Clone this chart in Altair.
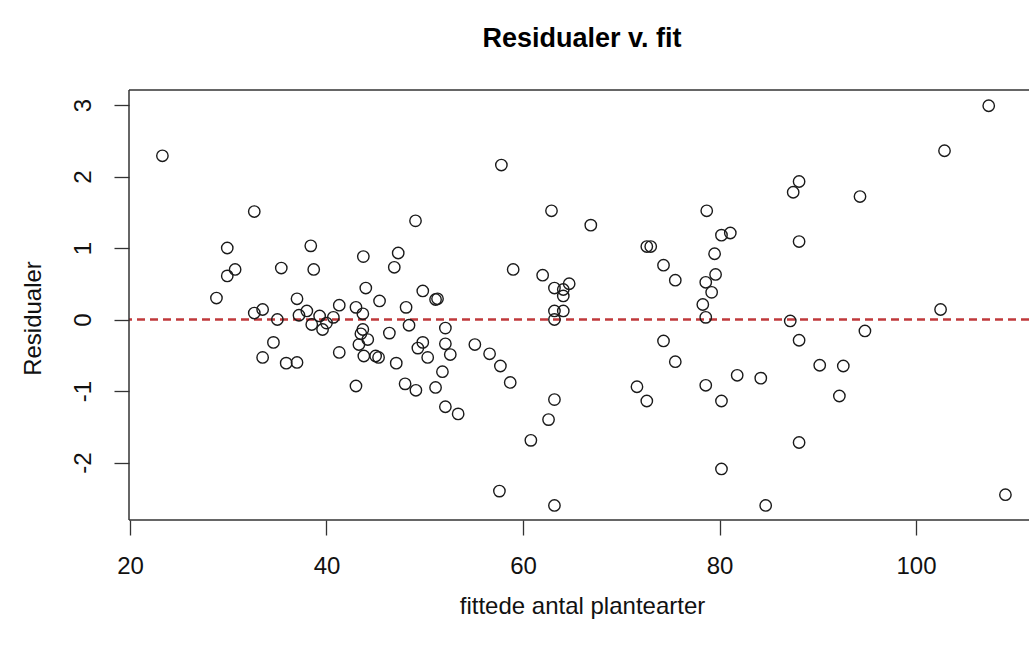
import altair as alt
import pandas as pd

fitted = [
    23.3, 28.8, 29.9, 29.9, 30.7, 32.65, 32.65, 33.5, 33.5, 34.6,
    35.0, 35.4, 35.9, 37.0, 37.0, 37.2, 38.0, 38.4, 38.7, 38.5,
    39.3, 39.6, 40.0, 40.7, 41.3, 41.3, 43.0, 43.0, 43.7, 43.75,
    44.0, 43.7, 43.5, 44.2, 43.3, 43.8,
    45.0, 45.3, 45.4, 46.4, 46.9, 47.1, 47.3, 48.0, 48.1, 48.4,
    49.06, 49.1, 49.3, 49.8, 49.8, 50.3, 51.1, 51.1, 51.3, 51.8,
    52.1, 52.1, 52.1, 52.6, 53.4, 55.1, 56.6, 57.6, 57.7, 57.8,
    58.7, 59.0, 60.8, 62.0, 62.6, 62.9, 63.2, 63.2, 63.2, 63.2,
    63.2, 64.1, 64.7, 64.1, 64.1, 66.9,
    71.6, 72.6, 72.6, 73.0, 74.3, 74.3, 75.5, 75.5, 78.3, 78.6,
    78.6, 78.6, 78.7, 79.2, 79.5, 79.6, 80.2, 80.2, 80.2, 81.1,
    81.8, 84.2, 84.7, 87.2, 87.5, 88.1, 88.1, 88.1, 88.1, 90.2,
    92.2, 92.6, 94.3, 94.8, 102.5, 102.9, 107.4, 109.1,
]
residuals = [
    2.29, 0.30, 1.00, 0.61, 0.70, 1.51, 0.09, 0.14, -0.53, -0.32,
    0.00, 0.72, -0.61, 0.29, -0.60, 0.06, 0.12, 1.03, 0.70, -0.07,
    0.05, -0.14, -0.05, 0.03, 0.20, -0.46, 0.17, -0.93, 0.08, 0.88,
    0.44, -0.14, -0.20, -0.28, -0.35, -0.51,
    -0.51, -0.53, 0.26, -0.19, 0.73, -0.61, 0.93, -0.90, 0.17, -0.08,
    1.38, -0.99, -0.40, 0.40, -0.32, -0.53, -0.95, 0.28, 0.29, -0.73,
    -0.12, -0.34, -1.22, -0.49, -1.32, -0.35, -0.48, -2.40, -0.65, 2.16,
    -0.88, 0.70, -1.69, 0.62, -1.40, 1.52, 0.44, 0.12, 0.00, -1.12,
    -2.60, 0.42, 0.50, 0.33, 0.12, 1.32,
    -0.94, -1.14, 1.02, 1.02, 0.76, -0.30, 0.55, -0.59, 0.21, 0.52,
    0.03, -0.92, 1.52, 0.38, 0.92, 0.63, 1.18, -1.14, -2.09, 1.21,
    -0.78, -0.82, -2.60, -0.02, 1.78, 1.93, 1.09, -0.29, -1.72, -0.64,
    -1.07, -0.65, 1.72, -0.16, 0.14, 2.36, 2.99, -2.45,
]
x_ticks = [20, 40, 60, 80, 100]
y_ticks = [-2, -1, 0, 1, 2, 3]
ref_line = [0]

df = pd.DataFrame({"fitted": fitted, "resid": residuals})
ref = pd.DataFrame({"y": ref_line})

FONT = "Liberation Sans"
W, H = 900, 430
FRAME = "#333"

xscale = alt.Scale(domain=[19.9, 111.5], nice=False, zero=False)
yscale = alt.Scale(domain=[-2.804, 3.21], nice=False, zero=False)

points = alt.Chart(df).mark_point(
    shape="circle", filled=False, size=130, stroke="#1a1a1a", strokeWidth=1.4, opacity=1
).encode(
    x=alt.X("fitted:Q", scale=xscale,
            axis=alt.Axis(values=x_ticks, format="d", title="fittede antal plantearter", grid=False,
                          domain=False, tickSize=15, tickColor=FRAME, tickWidth=1.3,
                          labelFontSize=24, labelFont=FONT, labelColor="#111", labelPadding=19,
                          labelFlush=False,
                          titleFontSize=24, titleFont=FONT, titleFontWeight="normal",
                          titleColor="#111", titleX=453, titleY=86, titleBaseline="middle")),
    y=alt.Y("resid:Q", scale=yscale,
            axis=alt.Axis(values=y_ticks, title="Residualer", grid=False,
                          labelExpr="datum.value < 0 ? '-' + abs(datum.value) : '' + datum.value",
                          domain=False, tickSize=15, tickColor=FRAME, tickWidth=1.3,
                          labelFontSize=24, labelFont=FONT, labelColor="#111", labelPadding=19,
                          labelAngle=270, labelAlign="center", labelBaseline="bottom",
                          labelFlush=False,
                          titleFontSize=24, titleFont=FONT, titleFontWeight="normal",
                          titleColor="#111", titleX=-96, titleY=228, titleAngle=270,
                          titleBaseline="middle", titleAlign="center")),
)

rule = alt.Chart(ref).mark_rule(
    color="#c0393b", strokeWidth=2.6, strokeDash=[8, 5]
).encode(y=alt.Y("y:Q", scale=yscale))

# plot frame: top, left and bottom edges (the right edge lies beyond the window)
frame_top = alt.Chart(ref).mark_rule(color=FRAME, strokeWidth=1.5).encode(
    x=alt.value(0), x2=alt.value(W + 5), y=alt.value(0))
frame_left = alt.Chart(ref).mark_rule(color=FRAME, strokeWidth=1.5).encode(
    x=alt.value(0), y=alt.value(0), y2=alt.value(H))
frame_bottom = alt.Chart(ref).mark_rule(color=FRAME, strokeWidth=1.5).encode(
    x=alt.value(0), x2=alt.value(W + 5), y=alt.value(H))

chart = alt.layer(rule, points, frame_top, frame_left, frame_bottom).properties(
    width=W,
    height=H,
    title=alt.TitleParams("Residualer v. fit", font=FONT, fontSize=27, fontWeight="bold",
                          color="#000", anchor="middle", offset=36, dx=3),
    padding={"left": 129, "top": 90, "right": 0, "bottom": 126},
    autosize=alt.AutoSizeParams(type="none"),
).configure(
    background="white"
).configure_view(
    stroke=None, strokeWidth=0
)

chart.save("out.html", embed_options={"renderer": "svg", "actions": False})
